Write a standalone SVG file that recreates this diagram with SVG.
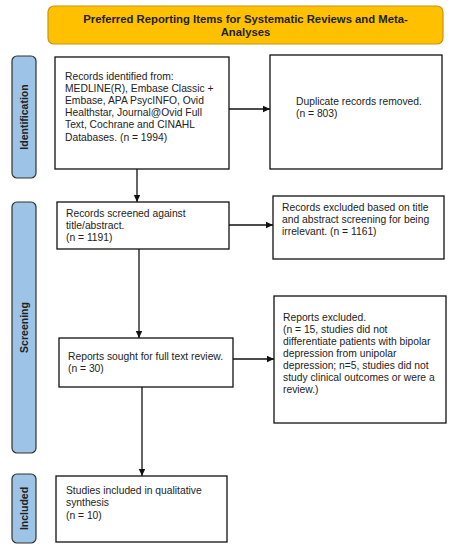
<svg xmlns="http://www.w3.org/2000/svg" width="453" height="550" viewBox="0 0 453 550">
<style>
.box{fill:#fff;stroke:#111;stroke-width:1.3}
.bar{fill:#9dc3e6;stroke:#333;stroke-width:1.2}
.t{font-family:"Liberation Sans",Arial,sans-serif;font-size:10.3px;fill:#222}
.b{font-family:"Liberation Sans",Arial,sans-serif;font-size:10.5px;font-weight:bold;fill:#222}
.tt{font-family:"Liberation Sans",Arial,sans-serif;font-size:11.3px;font-weight:bold;fill:#222;text-anchor:middle}
.c{stroke:#111;stroke-width:1.3;fill:none;marker-end:url(#ah)}
</style>
<defs>
<marker id="ah" markerWidth="8" markerHeight="8" refX="7" refY="4" orient="auto" markerUnits="userSpaceOnUse">
<path d="M0,0.8 L7,4 L0,7.2 Z" fill="#111"/>
</marker>
</defs>
<rect width="453" height="550" fill="#fff"/>
<g id="title">
<rect x="48" y="6" width="395" height="38" rx="6" fill="#ffc000" stroke="#c8960a" stroke-width="1.2"/>
<text class="tt" x="245.5" y="23.3">Preferred Reporting Items for Systematic Reviews and Meta-</text>
<text class="tt" x="245.5" y="36.3">Analyses</text>
</g>
<g id="bar-identification">
<rect class="bar" x="12" y="56" width="24" height="122" rx="5"/>
<text class="b" transform="translate(28,117) rotate(-90)" text-anchor="middle">Identification</text>
</g>
<g id="bar-screening">
<rect class="bar" x="12" y="202" width="24" height="251" rx="5"/>
<text class="b" transform="translate(28,327.5) rotate(-90)" text-anchor="middle">Screening</text>
</g>
<g id="bar-included">
<rect class="bar" x="12" y="474" width="24" height="69" rx="5"/>
<text class="b" transform="translate(28,508.5) rotate(-90)" text-anchor="middle">Included</text>
</g>
<g id="records-identified">
<rect class="box" x="55" y="57" width="174" height="112"/>
<text class="t" x="65" y="79.5">Records identified from:</text>
<text class="t" x="65" y="91.8">MEDLINE(R), Embase Classic +</text>
<text class="t" x="65" y="104">Embase, APA PsycINFO, Ovid</text>
<text class="t" x="65" y="116.2">Healthstar, Journal@Ovid Full</text>
<text class="t" x="65" y="128.4">Text, Cochrane and CINAHL</text>
<text class="t" x="65" y="140.6">Databases. (n = 1994)</text>
</g>
<g id="duplicates">
<rect class="box" x="270" y="55" width="172" height="114"/>
<text class="t" x="296" y="104.7">Duplicate records removed.</text>
<text class="t" x="296" y="116.7">(n = 803)</text>
</g>
<g id="records-screened">
<rect class="box" x="57" y="202" width="172" height="47"/>
<text class="t" x="66" y="216.7">Records screened against</text>
<text class="t" x="66" y="229">title/abstract.</text>
<text class="t" x="66" y="241.3">(n = 1191)</text>
</g>
<g id="records-excluded">
<rect class="box" x="273" y="196" width="171" height="63"/>
<text class="t" x="282" y="211">Records excluded based on title</text>
<text class="t" x="282" y="222.8">and abstract screening for being</text>
<text class="t" x="282" y="234.6">irrelevant. (n = 1161)</text>
</g>
<g id="reports-sought">
<rect class="box" x="59" y="338" width="174" height="49"/>
<text class="t" x="68" y="360.4">Reports sought for full text review.</text>
<text class="t" x="68" y="372">(n = 30)</text>
</g>
<g id="reports-excluded">
<rect class="box" x="274" y="296" width="172" height="127"/>
<text class="t" x="283" y="320.7">Reports excluded.</text>
<text class="t" x="283" y="332.7">(n = 15, studies did not</text>
<text class="t" x="283" y="344.7">differentiate patients with bipolar</text>
<text class="t" x="283" y="356.7">depression from unipolar</text>
<text class="t" x="283" y="368.7">depression; n=5, studies did not</text>
<text class="t" x="283" y="380.7">study clinical outcomes or were a</text>
<text class="t" x="283" y="392.7">review.)</text>
</g>
<g id="studies-included">
<rect class="box" x="56" y="476" width="171" height="66"/>
<text class="t" x="66" y="493.7">Studies included in qualitative</text>
<text class="t" x="66" y="506">synthesis</text>
<text class="t" x="66" y="518.5">(n = 10)</text>
</g>
<g id="connectors">
<line class="c" x1="229" y1="109" x2="270" y2="109"/>
<line class="c" x1="137" y1="169" x2="137" y2="202"/>
<line class="c" x1="229" y1="225" x2="273" y2="225"/>
<line class="c" x1="139" y1="249" x2="139" y2="338"/>
<line class="c" x1="233" y1="359" x2="274" y2="359"/>
<line class="c" x1="142" y1="387" x2="142" y2="476"/>
</g>
</svg>
